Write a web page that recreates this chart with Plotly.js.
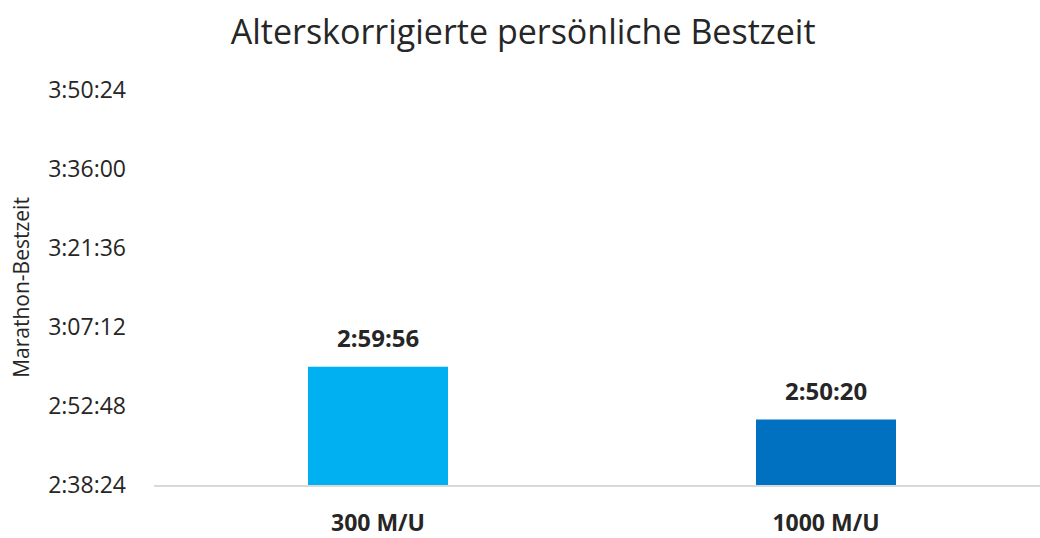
<!DOCTYPE html>
<html>
<head>
<meta charset="utf-8">
<script src="https://cdn.plot.ly/plotly-3.0.1.min.js"></script>
<style>
html,body{margin:0;padding:0;background:#fff;}
#chart{width:1040px;height:538px;}
</style>
</head>
<body>
<div id="chart"></div>
<script>
// Data
const categories = ['300 M/U', '1000 M/U'];
const bestTimes = ['2:59:56', '2:50:20'];
const tickLabels = ['2:38:24', '2:52:48', '3:07:12', '3:21:36', '3:36:00', '3:50:24'];
const barColors = ['#00B0F0', '#0070C0'];

function toSec(s) {
  const p = s.split(':').map(Number);
  return p[0] * 3600 + p[1] * 60 + p[2];
}
const timeSec = bestTimes.map(toSec);
const tickVals = tickLabels.map(toSec);

const fontFam = '"Open Sans", "Noto Sans", sans-serif';
const textCol = '#262626';

const trace = {
  type: 'bar',
  x: categories,
  y: timeSec.map(v => v - tickVals[0]),
  base: tickVals[0],
  marker: {color: barColors},
  width: 0.3125,
  hoverinfo: 'skip'
};

const annotations = categories.map((c, i) => ({
  x: c,
  y: timeSec[i],
  text: '<b>' + bestTimes[i] + '</b>',
  showarrow: false,
  xanchor: 'center',
  yanchor: 'middle',
  yshift: 29,
  font: {family: fontFam, size: 24, color: textCol}
}));

const layout = {
  width: 1040,
  height: 538,
  margin: {l: 154, r: 0, t: 90, b: 52.5},
  paper_bgcolor: '#fff',
  plot_bgcolor: '#fff',
  showlegend: false,
  title: {
    text: 'Alterskorrigierte persönliche Bestzeit',
    font: {family: fontFam, size: 34, color: textCol},
    x: 0.503, xanchor: 'center',
    y: 0.94, yanchor: 'middle'
  },
  xaxis: {
    type: 'category',
    range: [-0.5, 1.4777],
    showgrid: false,
    zeroline: false,
    showline: true,
    linecolor: '#D9D9D9',
    linewidth: 1.5,
    ticks: '',
    ticklabelstandoff: 17,
    tickfont: {family: fontFam, size: 23, color: textCol, weight: 'bold'},
    fixedrange: true
  },
  yaxis: {
    range: [tickVals[0], tickVals[tickVals.length - 1]],
    tickvals: tickVals,
    ticktext: tickLabels,
    showgrid: false,
    zeroline: false,
    showline: false,
    ticks: '',
    ticklabelstandoff: 27,
    tickfont: {family: fontFam, size: 23, color: textCol},
    automargin: true,
    title: {
      text: 'Marathon-Bestzeit',
      standoff: 12,
      font: {family: fontFam, size: 21, color: textCol}
    },
    fixedrange: true
  },
  annotations: annotations
};

Plotly.newPlot('chart', [trace], layout, {displayModeBar: false, staticPlot: true});
</script>
</body>
</html>
